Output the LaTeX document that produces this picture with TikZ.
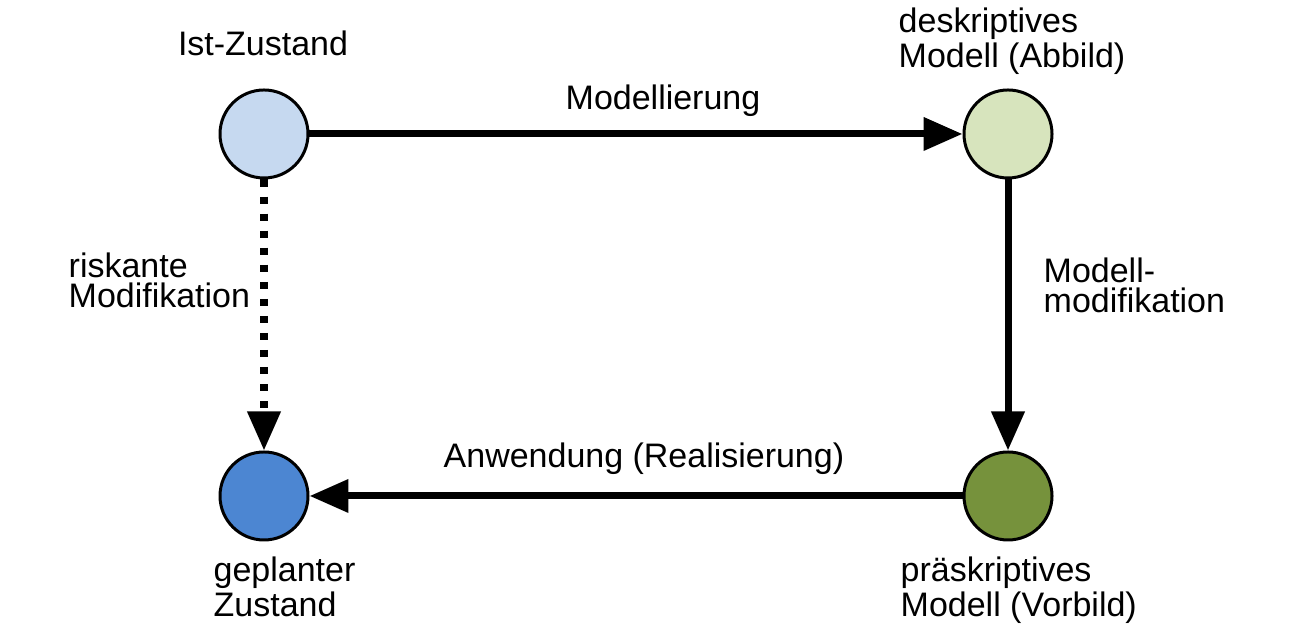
\documentclass[tikz,border=0pt]{standalone}
\usepackage{fontspec}
\setmainfont{Liberation Sans}
\usetikzlibrary{arrows.meta,positioning}
\definecolor{ZIstFill}{HTML}{C6D9F0}
\definecolor{ZPlanFill}{HTML}{4C86D2}
\definecolor{ZDeskFill}{HTML}{D7E4BD}
\definecolor{ZPraeFill}{HTML}{76923C}

\begin{document}
\begin{tikzpicture}[
    zustand/.style={circle,draw=black,line width=0.85pt,minimum size=0.88cm,inner sep=0pt},
    pfeil/.style={line width=2pt,-{Triangle[length=3.9mm,width=3.2mm]}},
    lbl/.style={inner sep=0pt,align=left,font=\fontsize{9.67pt}{8.8pt}\selectfont}]
    \useasboundingbox (0,0) rectangle (13.08,6.42);
    % Zustaende und Modelle
    \node[zustand,fill=ZIstFill]  (ist)     at (2.64,5.08)  {};
    \node[zustand,fill=ZDeskFill] (desk)    at (10.08,5.08) {};
    \node[zustand,fill=ZPraeFill] (prae)    at (10.08,1.46) {};
    \node[zustand,fill=ZPlanFill] (geplant) at (2.64,1.46)  {};
    % Beschriftungen (base = letzte Zeile)
    \node[lbl,anchor=base] (istlbl) at (2.63,5.86) {Ist-Zustand};
    \node[lbl,anchor=base west] (desklbl) at (8.98,5.74) {deskriptives\\Modell (Abbild)};
    \node[lbl,anchor=base west] (praelbl) at (9.00,0.25) {präskriptives\\Modell (Vorbild)};
    \node[lbl,anchor=base west] (planlbl) at (2.13,0.25) {geplanter\\Zustand};
    % Uebergaenge
    \draw[pfeil] (ist) -- node[lbl,pos=0.5,anchor=base,xshift=0.27cm,yshift=0.24cm] (modlbl) {Modellierung} (desk);
    \draw[pfeil] (desk) -- (prae);
    \draw[pfeil] (prae) -- (geplant);
    \draw[pfeil,dash pattern=on 2pt off 2.85pt] (ist) -- (geplant);
    \node[lbl,anchor=base west] (mmodlbl) at (10.43,3.29) {Modell-\\modifikation};
    \node[lbl,anchor=base west] (anwlbl) at (4.43,1.74) {Anwendung (Realisierung)};
    \node[lbl,anchor=base west] (risklbl) at (0.68,3.34) {riskante\\Modifikation};
\end{tikzpicture}
\end{document}
